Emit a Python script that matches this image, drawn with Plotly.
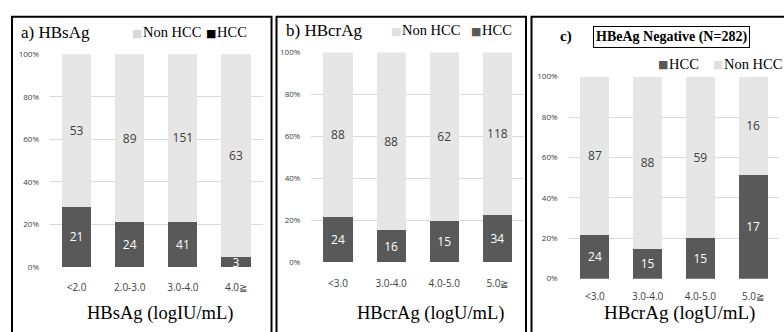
import plotly.graph_objects as go

W, H = 784, 332

cats_a = ['<2.0', '2.0-3.0', '3.0-4.0', '4.0≧']
hcc_a = [21, 24, 41, 3]
non_a = [53, 89, 151, 63]

cats_b = ['<3.0', '3.0-4.0', '4.0-5.0', '5.0≧']
hcc_b = [24, 16, 15, 34]
non_b = [88, 88, 62, 118]

cats_c = ['<3.0', '3.0-4.0', '4.0-5.0', '5.0≧']
hcc_c = [24, 15, 15, 17]
non_c = [87, 88, 59, 16]

DARK = '#595959'
LIGHT = '#e6e6e6'
SANS = 'Open Sans'
SERIF = 'Liberation Serif'

def px(x):
    return x / W

def py(y):
    return 1 - y / H

fig = go.Figure()

panels = [
    ('x', 'y', cats_a, hcc_a, non_a),
    ('x2', 'y2', cats_b, hcc_b, non_b),
    ('x3', 'y3', cats_c, hcc_c, non_c),
]
for xa, ya, cats, hcc, non in panels:
    fig.add_trace(go.Bar(x=cats, y=hcc, text=hcc, xaxis=xa, yaxis=ya,
                         marker=dict(color=DARK, line=dict(width=0)), width=0.55,
                         textposition='inside', insidetextanchor='middle', constraintext='none',
                         textangle=0,
                         textfont=dict(family=SANS, size=12, color='white'),
                         hoverinfo='skip', showlegend=False))
    fig.add_trace(go.Bar(x=cats, y=non, text=non, xaxis=xa, yaxis=ya,
                         marker=dict(color=LIGHT, line=dict(width=0)), width=0.55,
                         textposition='inside', insidetextanchor='middle', constraintext='none',
                         textangle=0,
                         textfont=dict(family=SANS, size=12, color='#404040'),
                         hoverinfo='skip', showlegend=False))

domains = [
    ((50, 262.6), (50, 270)),
    ((311.4, 524), (48, 265)),
    ((568.6, 779.4), (73, 282)),
]
standoffs = [13, 14, 10]
layout = {}
for i, ((x0, x1), (y0, y1)) in enumerate(domains):
    sx = '' if i == 0 else str(i + 1)
    layout['xaxis' + sx] = dict(domain=[px(x0), px(x1)], anchor='y' + sx, type='category',
                                showgrid=False, showline=False, ticks='',
                                ticklabelstandoff=standoffs[i],
                                tickfont=dict(family=SANS, size=10, color='#404040'))
    layout['yaxis' + sx] = dict(domain=[py(y1), py(y0)], anchor='x' + sx, range=[0, 100],
                                tickvals=[0, 20, 40, 60, 80, 100],
                                ticktext=['0%', '20%', '40%', '60%', '80%', '100%'],
                                showgrid=True, gridcolor='#d9d9d9', gridwidth=1,
                                zeroline=False, showline=False, ticks='',
                                ticklabelstandoff=10,
                                tickfont=dict(family=SANS, size=8, color='#404040'))

annotations = []
def ann(x, y, text, size, family=SERIF, color='black', xanchor='center', **kw):
    annotations.append(dict(x=px(x), y=py(y), xref='paper', yref='paper', text=text,
                            showarrow=False, xanchor=xanchor, yanchor='middle',
                            font=dict(family=family, size=size, color=color), **kw))

# titles
ann(19, 27, 'a) HBsAg', 17, xanchor='left')
ann(284, 25, 'b) HBcrAg', 17, xanchor='left')
ann(566, 32, '<b>c)</b>', 15)
ann(671.5, 32.5, '<b>HBeAg Negative (N=282)</b>', 14, bordercolor='black', borderwidth=1, borderpad=2)

# legends: square markers then labels
def legend_item(xsq, xtxt, y, color, label):
    ann(xsq, y + 1, '■', 11, family='DejaVu Sans', color=color)
    ann(xtxt, y, label, 14.5, xanchor='left')

legend_item(137, 141, 27, '#d9d9d9', 'Non HCC')
legend_item(211, 215, 27, 'black', 'HCC')
legend_item(396, 400, 25, '#e0e0e0', 'Non HCC')
legend_item(476, 480, 25, DARK, 'HCC')
legend_item(663, 667, 60, DARK, 'HCC')
legend_item(718, 722, 60, '#e0e0e0', 'Non HCC')

# axis titles
ann(160, 318.5, 'HBsAg (logIU/mL)', 18.5)
ann(430, 318.5, 'HBcrAg (logU/mL)', 18.5)
ann(679, 318, 'HBcrAg (logU/mL)', 19)

shapes = []
for x0, x1 in [(12, 271.5), (276.5, 526), (531.5, 800)]:
    shapes.append(dict(type='rect', xref='paper', yref='paper',
                       x0=px(x0), x1=px(x1), y0=py(345), y1=py(11),
                       line=dict(color='black', width=2)))

fig.update_layout(width=W, height=H, margin=dict(l=0, r=0, t=0, b=0),
                  paper_bgcolor='white', plot_bgcolor='white',
                  barmode='stack', barnorm='percent',
                  annotations=annotations, shapes=shapes, **layout)

fig.write_html('out.html', config={'displayModeBar': False},
               post_script="document.body.style.margin='0';document.body.style.overflow='hidden';")
